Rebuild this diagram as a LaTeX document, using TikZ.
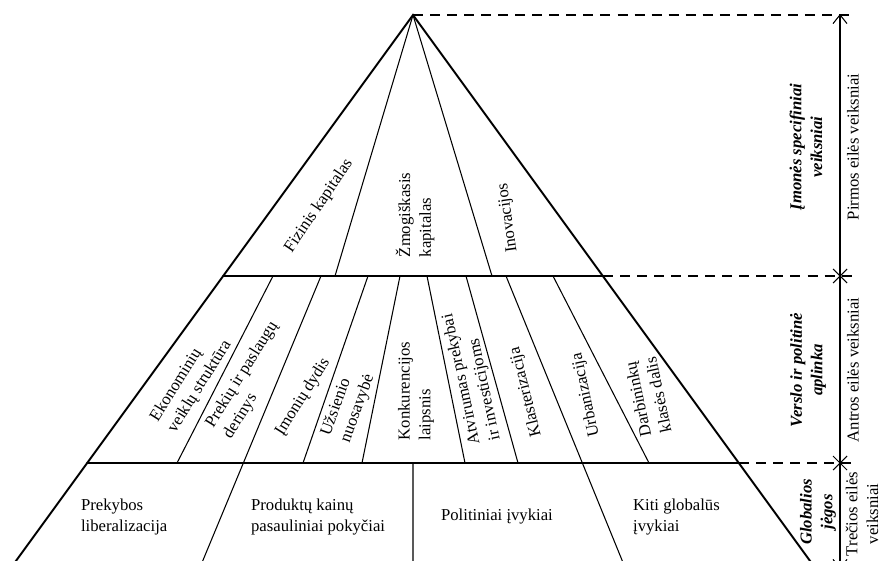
\documentclass[tikz,border=0pt]{standalone}
\usepackage{fontspec}
\setmainfont{Liberation Serif}
\usepackage{tikz}
\usetikzlibrary{arrows.meta}
\usetikzlibrary{positioning}
\tikzstyle{pyramid_style}=[
	x=0.02cm, y=-0.02cm,
	>={Straight Barb[length=5pt,width=8pt]},
	font=\fontsize{9.5}{11.8}\selectfont,
	cell/.style={align=left,inner sep=1pt},
	band/.style={align=center,inner sep=1pt,rotate=90,font=\fontsize{9.5}{11.8}\selectfont\bfseries\itshape},
	rank/.style={align=center,inner sep=1pt,rotate=90},
	thick_edge/.style={line width=1.1pt,line cap=round},
	thin_edge/.style={line width=0.6pt},
	dash_edge/.style={line width=0.6pt,dash pattern=on 5.7pt off 4pt}
]

\begin{document}
\begin{tikzpicture}[pyramid_style]
		
		\useasboundingbox (0,0) rectangle (886,561);
		\clip (0,0) rectangle (886,561);
		
		% outline of the pyramid
		\coordinate (top) at (413,15);
		\coordinate (l1)  at (223,276);
		\coordinate (r1)  at (603,276);
		\coordinate (l2)  at (87,463);
		\coordinate (r2)  at (739,463);
		\coordinate (l3)  at (13,565);
		\coordinate (r3)  at (813,565);
		
		% first level dividers
		\coordinate (t1) at (335,276);
		\coordinate (t2) at (492,276);
		
		% second level dividers
		\coordinate (m1a) at (273,276);   \coordinate (m1b) at (177,463);
		\coordinate (m2a) at (321,276);   \coordinate (m2b) at (201,565);
		\coordinate (m3a) at (368,276);   \coordinate (m3b) at (303,463);
		\coordinate (m4a) at (400,276);   \coordinate (m4b) at (362,463);
		\coordinate (m5a) at (427,276);   \coordinate (m5b) at (465,463);
		\coordinate (m6a) at (466,276);   \coordinate (m6b) at (518,463);
		\coordinate (m7a) at (506,276);   \coordinate (m7b) at (624,565);
		\coordinate (m8a) at (553,276);   \coordinate (m8b) at (649,463);
		
		% third level divider
		\coordinate (b1a) at (413,463);   \coordinate (b1b) at (413,565);
		
		% scale on the right
		\coordinate (ax_top) at (840,14);
		\coordinate (ax_bot) at (840,569);
		\coordinate (x1) at (840,276);
		\coordinate (x2) at (840,463);
		\coordinate (d0) at (852,15);
		\coordinate (d1) at (852,276);
		\coordinate (d2) at (852,463);
		
		\draw[thick_edge] (l3) -- (top) -- (r3);
		\draw[thick_edge] (l1) -- (r1);
		\draw[thick_edge] (l2) -- (r2);
		
		\draw[thin_edge] (top) -- (t1)
		(top) -- (t2);
		
		\draw[thin_edge] (m1a) -- (m1b)
		(m2a) -- (m2b)
		(m3a) -- (m3b)
		(m4a) -- (m4b)
		(m5a) -- (m5b)
		(m6a) -- (m6b)
		(m7a) -- (m7b)
		(m8a) -- (m8b)
		(b1a) -- (b1b);
		
		\draw[dash_edge] (top) -- (d0)
		(r1) -- (d1)
		(r2) -- (d2);
		
		\draw[thin_edge,<->] (ax_bot) -- (ax_top);
		\draw[thin_edge] (x1) +(-7,-7) -- +(7,7) (x1) +(-7,7) -- +(7,-7);
		\draw[thin_edge] (x2) +(-7,-7) -- +(7,7) (x2) +(-7,7) -- +(7,-7);
		
		% first level
		\node[cell,rotate=56] (fiz)  at (319,206) {Fizinis kapitalas};
		\node[cell,rotate=90] (zmog) at (415,215) {Žmogiškasis\\kapitalas};
		\node[cell,rotate=98] (inov) at (508,218) {Inovacijos};
		
		% second level
		\node[cell,rotate=58]  (ekon)  at (191,381) {Ekonominių\\veiklų struktūra};
		\node[cell,rotate=58]  (prek)  at (251,380) {Prekių ir paslaugų\\derinys};
		\node[cell,rotate=58]  (imon)  at (303,397) {Įmonių dydis};
		\node[cell,rotate=70]  (uzs)   at (348,405) {Užsienio\\nuosavybė};
		\node[cell,rotate=90]  (konk)  at (416,391) {Konkurencijos\\laipsnis};
		\node[cell,rotate=102] (atv)   at (472,377) {Atvirumas prekybai\\ir investicijoms};
		\node[cell,rotate=104] (klast) at (526,392) {Klasterizacija};
		\node[cell,rotate=102] (urb)   at (586,395) {Urbanizacija};
		\node[cell,rotate=102] (darb)  at (648,397) {Darbininkų\\klasės dalis};
		
		% third level
		\node[cell,anchor=west] (libr)  at (79,517)  {Prekybos\\liberalizacija};
		\node[cell,anchor=west] (kain)  at (249,517) {Produktų kainų\\pasauliniai pokyčiai};
		\node[cell,anchor=west] (polit) at (439,517) {Politiniai įvykiai};
		\node[cell,anchor=west] (kiti)  at (631,517) {Kiti globalūs\\įvykiai};
		
		% bands and ranks
		\node[band] (imsp)  at (806,147) {Įmonės specifiniai\\veiksniai};
		\node[band] (versl) at (808,370) {Verslo ir politinė\\aplinka};
		\node[band] (glob)  at (818,512) {Globalios\\jėgos};
		\node[rank] (pirm)  at (853,147) {Pirmos eilės veiksniai};
		\node[rank] (antr)  at (853,370) {Antros eilės veiksniai};
		\node[rank] (trec)  at (862,514) {Trečios eilės\\veiksniai};
		
\end{tikzpicture}
\end{document}
